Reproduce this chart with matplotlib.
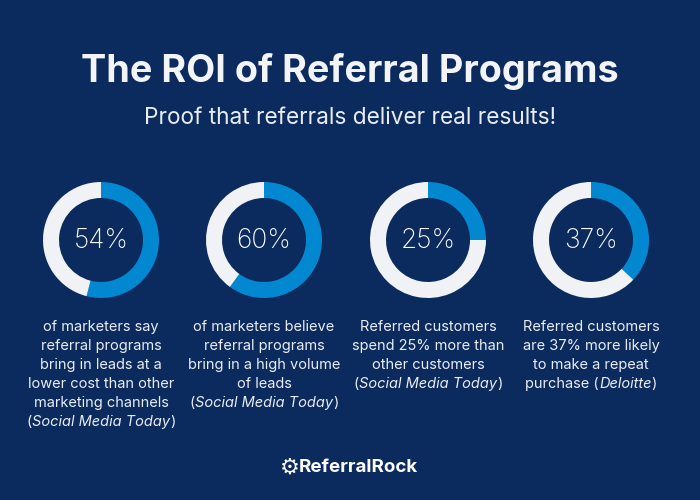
import matplotlib.pyplot as plt

# ---------- Data ----------
VALUES = [54, 60, 25, 37]
LABELS = ["54%", "60%", "25%", "37%"]
DESC_LINES = [
    ["of marketers say", "referral programs", "bring in leads at a",
     "lower cost than other", "marketing channels"],
    ["of marketers believe", "referral programs", "bring in a high volume",
     "of leads"],
    ["Referred customers", "spend 25% more than", "other customers"],
    ["Referred customers", "are 37% more likely", "to make a repeat"],
]
SOURCES = ["Social Media Today", "Social Media Today", "Social Media Today", "Deloitte"]
# the last card puts the source on the same line as the text
SOURCE_PREFIX = ["", "", "", "purchase "]

TITLE = "The ROI of Referral Programs"
SUBTITLE = "Proof that referrals deliver real results!"
BRAND = "ReferralRock"

BG = "#0b2a5e"
BLUE = "#0288d1"
GREY = "#f0f2f5"
TXT = "#e9edf3"

plt.rcParams["font.family"] = ["Inter", "DejaVu Sans"]

fig = plt.figure(figsize=(7, 5), dpi=100, facecolor=BG)
ax = fig.add_axes([0, 0, 1, 1])
ax.set_xlim(0, 700)
ax.set_ylim(500, 0)
ax.set_aspect("equal")
ax.axis("off")
ax.set_facecolor(BG)

ax.text(350, 72, TITLE, ha="center", va="center", color="#f2f4f7",
        fontsize=27.2, fontweight="bold")
ax.text(350, 118, SUBTITLE, ha="center", va="center", color=TXT, fontsize=16.3)

centers_x = [101, 264, 428, 591]
cy = 240
R = 58

# y axis is flipped, so angles run the other way round on screen
for i, v in enumerate(VALUES):
    cx = centers_x[i]
    ax.pie([v, 100 - v], colors=[BLUE, GREY], startangle=-90, counterclock=True,
           center=(cx, cy), radius=R, wedgeprops=dict(width=16, linewidth=0),
           frame=True)
    ax.text(cx, cy + 1, LABELS[i], ha="center", va="center", color="white",
            fontsize=19, fontweight="light")

ax.set_xlim(0, 700)
ax.set_ylim(500, 0)
ax.axis("off")

fig.canvas.draw()
renderer = fig.canvas.get_renderer()


def text_width(t):
    bb = t.get_window_extent(renderer=renderer)
    return bb.width


line_h = 19
y0 = 327
for i, lines in enumerate(DESC_LINES):
    cx = centers_x[i]
    for j, ln in enumerate(lines):
        ax.text(cx, y0 + j * line_h, ln, ha="center", va="center",
                color=TXT, fontsize=10.5)
    # source line: "prefix(" + italic source + ")"
    y = y0 + len(lines) * line_h
    pieces = [(SOURCE_PREFIX[i] + "(", "normal"), (SOURCES[i], "italic"), (")", "normal")]
    arts = []
    for s, style in pieces:
        t = ax.text(0, y, s, ha="left", va="center", color=TXT, fontsize=10.5,
                    fontstyle=style)
        arts.append(t)
    widths = [text_width(t) for t in arts]
    x = cx - sum(widths) / 2
    for t, w in zip(arts, widths):
        t.set_x(x)
        x += w

# brand
ax.text(290, 468, "\u2699", ha="center", va="center", color="white",
        fontsize=16, fontweight="bold", family="DejaVu Sans")
ax.text(299, 468, BRAND, ha="left", va="center", color="white",
        fontsize=13.5, fontweight="bold")

fig.savefig("out.png", dpi=100, facecolor=BG)
